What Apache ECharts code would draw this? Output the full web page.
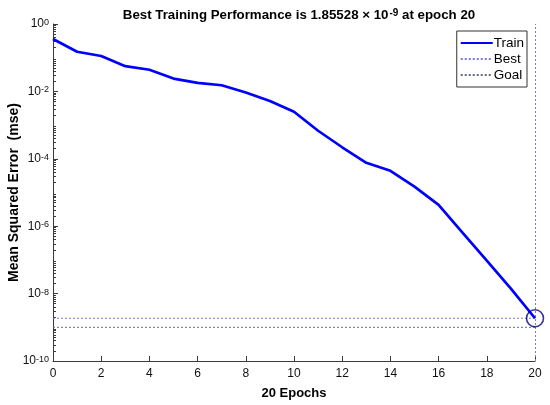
<!DOCTYPE html>
<html>
<head>
<meta charset="utf-8">
<script src="https://cdn.jsdelivr.net/npm/echarts@6/dist/echarts.min.js"></script>
<style>html,body{margin:0;padding:0;background:#fff}#c{width:550px;height:405px}</style>
</head>
<body>
<div id="c"></div>
<script>
// ---- data ----
const epochs = [0,1,2,3,4,5,6,7,8,9,10,11,12,13,14,15,16,17,18,19,20];
const trainMse = [0.36,0.15,0.112,0.056,0.044,0.024,0.018,0.0152,0.0093,0.0052,0.0025,
                  6.8e-4,2.2e-4,7.6e-5,4.4e-5,1.5e-5,4.3e-6,6.3e-7,9.5e-8,1.4e-8,1.85528e-9];
const bestEpoch = 20;
const bestPerf = 1.85528e-9;
const goalPerf = 1e-9;
const xTicks = [0,2,4,6,8,10,12,14,16,18,20];
const yMajorTicks = [1e-10,1e-8,1e-6,1e-4,1e-2,1];
const yMinorTicks = (function(){const a=[];for(let e=-10;e<0;e++){for(let k=2;k<=9;k++)a.push(k*Math.pow(10,e));}return a;})();

const chart = echarts.init(document.getElementById('c'), null, {renderer:'canvas'});
const FONT = 'Liberation Sans, Arial, Helvetica, sans-serif';
const axisColor = '#3a3a3a';

const option = {
  backgroundColor: '#fff',
  animation: false,
  textStyle: {fontFamily: FONT},
  title: {
    text: '{a|Best Training Performance is 1.85528 \u00d7 10}{s|-9}{a| at epoch 20}',
    left: 294, top: 3, textAlign: 'center',
    textStyle: {
      rich: {
        a: {fontFamily: FONT, fontSize: 13.3, fontWeight: 'bold', color: '#000', lineHeight: 14, verticalAlign: 'bottom'},
        s: {fontFamily: FONT, fontSize: 10, fontWeight: 'bold', color: '#000', lineHeight: 10, padding: [0,0,7,1], verticalAlign: 'top'}
      }
    }
  },
  legend: {
    data: ['Train','Best','Goal'],
    orient: 'vertical',
    right: 23, top: 31,
    backgroundColor: '#fff',
    borderColor: '#333', borderWidth: 1,
    padding: [5,3,5,3],
    itemGap: 2, itemWidth: 32, itemHeight: 14,
    itemStyle: {opacity: 0},
    textStyle: {fontFamily: FONT, fontSize: 13.5, color: '#000', padding: [0,0,0,-4]}
  },
  grid: {left: 53, right: 15, top: 24, bottom: 44, containLabel: false, outerBoundsMode: 'none'},
  xAxis: {
    type: 'value', min: 0, max: 20, interval: 2,
    name: '20 Epochs', nameLocation: 'middle', nameGap: 26, nameMoveOverlap: false,
    nameTextStyle: {fontFamily: FONT, fontSize: 13, fontWeight: 'bold', color: '#000'},
    axisLine: {show: true, lineStyle: {color: axisColor, width: 1}},
    axisTick: {show: true, inside: true, length: 5, lineStyle: {color: axisColor}},
    axisLabel: {fontFamily: FONT, fontSize: 12, color: '#111', margin: 7},
    splitLine: {show: false}
  },
  yAxis: [{
    type: 'log', logBase: 10, min: 1e-10, max: 1,
    name: 'Mean Squared Error  (mse)', nameLocation: 'middle', nameGap: 32, nameRotate: 90, nameMoveOverlap: false,
    nameTextStyle: {fontFamily: FONT, fontSize: 14, fontWeight: 'bold', color: '#000'},
    axisLine: {show: true, lineStyle: {color: axisColor, width: 1}},
    axisTick: {show: true, inside: true, length: 5, lineStyle: {color: axisColor}, customValues: yMajorTicks},
    axisLabel: {
      customValues: yMajorTicks, margin: 4,
      formatter: function(v){ return '{b|10}{e|' + Math.round(Math.log10(v)) + '}'; },
      rich: {
        b: {fontFamily: FONT, fontSize: 12, color: '#111', lineHeight: 12, verticalAlign: 'bottom'},
        e: {fontFamily: FONT, fontSize: 9, color: '#111', lineHeight: 10, padding: [0,0,6,0], verticalAlign: 'top'}
      }
    },
    splitLine: {show: false}
  },{
    type: 'log', logBase: 10, min: 1e-10, max: 1, position: 'left',
    axisLine: {show: false},
    axisTick: {show: true, inside: true, length: 3, lineStyle: {color: axisColor}, customValues: yMinorTicks},
    axisLabel: {show: false},
    splitLine: {show: false}
  }],
  series: [
    {
      name: 'Train', type: 'line', yAxisIndex: 0,
      data: epochs.map((e,i)=>[e, trainMse[i]]),
      showSymbol: false, symbol: 'none',
      lineStyle: {color: '#0000ff', width: 2.7},
      itemStyle: {color: '#0000ff'},
      z: 5
    },
    {
      name: 'Best', type: 'line', yAxisIndex: 0,
      data: [[0, bestPerf],[bestEpoch, bestPerf]],
      showSymbol: false, symbol: 'none',
      lineStyle: {color: '#7a7ad8', width: 1, type: [2,2]},
      itemStyle: {color: '#7a7ad8'},
      markLine: {
        silent: true, symbol: ['none','none'], label: {show: false},
        lineStyle: {color: '#7a7ad8', width: 1, type: [2,2]},
        data: [{xAxis: bestEpoch}]
      }
    },
    {
      name: 'Goal', type: 'line', yAxisIndex: 0,
      data: [[0, goalPerf],[bestEpoch, goalPerf]],
      showSymbol: false, symbol: 'none',
      lineStyle: {color: '#666a80', width: 1, type: [2,2]},
      itemStyle: {color: '#666a80'}
    },
    {
      name: 'BestPoint', type: 'scatter', yAxisIndex: 0,
      data: [[bestEpoch, bestPerf]],
      symbol: 'circle', symbolSize: 17,
      itemStyle: {color: 'rgba(0,0,0,0)', borderColor: '#000080', borderWidth: 1.6},
      z: 6
    }
  ]
};
chart.setOption(option);
</script>
</body>
</html>
